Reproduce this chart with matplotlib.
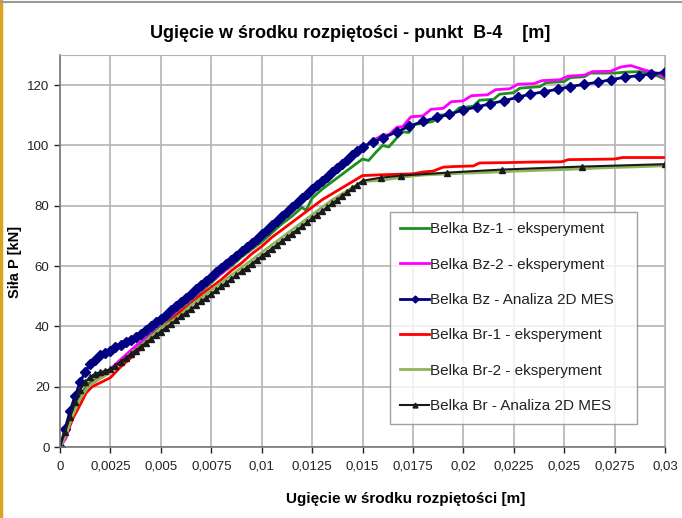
import matplotlib.pyplot as plt
from matplotlib.lines import Line2D
from matplotlib.ticker import FuncFormatter

plt.rcParams['font.family'] = ['Liberation Sans', 'DejaVu Sans']

# Belka Bz-1 - eksperyment
bz1_x = [0, 0.0003, 0.0006, 0.001, 0.0014, 0.0018, 0.0022, 0.0026, 0.003, 0.0035,
         0.004, 0.0045, 0.005, 0.0055, 0.006, 0.0065, 0.007, 0.0075, 0.008, 0.0085,
         0.009, 0.0095, 0.01, 0.0105, 0.011, 0.0115, 0.012, 0.0122, 0.0125, 0.013,
         0.0135, 0.014, 0.0145, 0.015, 0.0153, 0.0157, 0.016, 0.0163, 0.0167, 0.017,
         0.0173, 0.0176, 0.018, 0.0185, 0.0188, 0.0195, 0.0198, 0.0205, 0.0208, 0.0215,
         0.0218, 0.0225, 0.0228, 0.0238, 0.0241, 0.025, 0.0253, 0.026, 0.0263, 0.0275,
         0.028, 0.0288, 0.0293, 0.03]
bz1_y = [0, 5, 11, 17, 21, 22.5, 24, 26, 28.5, 31.5,
         34.5, 37.5, 40.5, 43, 46, 48.5, 51.5, 54.5, 57.5, 60,
         63, 65.5, 68, 71, 74, 76.5, 79.5, 78.5, 82.5, 85.5,
         88, 90.5, 93, 95.5, 95, 98, 100, 99.5, 102.5, 104.5,
         104.3, 107, 107.3, 108, 110, 110.5, 112.5, 113, 115, 115.3,
         117, 117.5, 119, 119.5, 120.8, 121.2, 122.5, 122.8, 124, 124,
         124.3, 124.5, 124, 122]

# Belka Bz-2 - eksperyment
bz2_x = [0, 0.0003, 0.0006, 0.001, 0.0014, 0.0018, 0.0022, 0.0026, 0.003, 0.0035,
         0.004, 0.0045, 0.005, 0.0055, 0.006, 0.0065, 0.007, 0.0075, 0.008, 0.0085,
         0.009, 0.0095, 0.01, 0.0105, 0.011, 0.0115, 0.012, 0.0125, 0.013, 0.0135,
         0.014, 0.0145, 0.015, 0.0155, 0.016, 0.0163, 0.0167, 0.017, 0.0174, 0.018,
         0.0184, 0.019, 0.0194, 0.02, 0.0204, 0.0212, 0.0216, 0.0223, 0.0227, 0.0235,
         0.0239, 0.0248, 0.0252, 0.026, 0.0264, 0.0273, 0.0278, 0.0283, 0.029, 0.0296,
         0.03]
bz2_y = [0, 3, 9, 16, 20, 22, 24, 26.5, 29, 32,
         35, 38, 41, 43.5, 46.5, 49, 52, 55, 57.5, 60.5,
         63.5, 66, 69.5, 72.5, 75.5, 78, 81, 84.5, 87.5, 90.5,
         93.5, 96.5, 99.5, 101.5, 103.5, 103.5, 106, 106.3, 109.5, 109.8,
         112, 112.3, 114.5, 114.8, 116.5, 116.8, 118.5, 118.8, 120.3, 120.5,
         121.5, 121.8, 123, 123.3, 124.5, 124.6, 126, 126.5, 125, 124,
         122.5]

# Belka Bz - Analiza 2D MES
bz_mes_x = [0, 0.00025, 0.0005, 0.00075, 0.001, 0.00125, 0.0015, 0.00175, 0.002, 0.00225,
            0.0025, 0.00275, 0.003, 0.00325, 0.0035, 0.00375, 0.004, 0.00425, 0.0045, 0.00475,
            0.005, 0.00525, 0.0055, 0.00575, 0.006, 0.00625, 0.0065, 0.00675, 0.007, 0.00725,
            0.0075, 0.00775, 0.008, 0.00825, 0.0085, 0.00875, 0.009, 0.00925, 0.0095, 0.00975,
            0.01, 0.01025, 0.0105, 0.01075, 0.011, 0.01125, 0.0115, 0.01175, 0.012, 0.01225,
            0.0125, 0.01275, 0.013, 0.01325, 0.0135, 0.01375, 0.014, 0.01425, 0.0145, 0.01475,
            0.015, 0.0155, 0.016, 0.0167, 0.0173, 0.018, 0.0187, 0.0193, 0.02, 0.0207,
            0.0213, 0.022, 0.0227, 0.0233, 0.024, 0.0247, 0.0253, 0.026, 0.0267, 0.0273,
            0.028, 0.0287, 0.0293, 0.03]
bz_mes_y = [0, 6, 12, 17, 21.5, 25, 27.5, 29, 30.5, 31.3,
            32, 33, 33.8, 34.8, 35.6, 36.5, 37.5, 38.7, 40, 41.3,
            42.5, 43.9, 45.3, 46.7, 48.1, 49.5, 50.9, 52.3, 53.7, 55.1,
            56.5, 57.9, 59.3, 60.7, 62.1, 63.5, 64.9, 66.3, 67.7, 69.1,
            70.5, 72, 73.5, 75, 76.5, 78, 79.5, 81, 82.5, 84,
            85.5, 86.9, 88.3, 89.7, 91.1, 92.5, 93.9, 95.3, 96.7, 98.1,
            99.5, 101, 102.5, 104.5, 106.3, 108, 109.3, 110.3, 111.8, 112.8,
            113.8, 114.8, 116, 117, 117.8, 118.7, 119.5, 120.3, 121, 121.8,
            122.6, 123.2, 123.7, 124.2]

# Belka Br-1 - eksperyment
br1_x = [0, 0.0003, 0.0006, 0.001, 0.0013, 0.0016, 0.0019, 0.0022, 0.0025, 0.003,
         0.0035, 0.004, 0.0045, 0.005, 0.0055, 0.006, 0.0065, 0.007, 0.0075, 0.008,
         0.0085, 0.009, 0.0095, 0.01, 0.0105, 0.011, 0.0115, 0.012, 0.0125, 0.013,
         0.0135, 0.014, 0.0145, 0.015, 0.016, 0.0175, 0.018, 0.0185, 0.019, 0.0195,
         0.0205, 0.0208, 0.022, 0.0235, 0.0249, 0.0252, 0.0265, 0.0275, 0.0279, 0.03]
br1_y = [0, 4, 9, 14, 18, 20, 21, 22, 23, 26.5,
         29.5, 32.5, 36, 39, 42, 45, 47.5, 50.5, 53, 55.5,
         58.5, 61, 64, 66.5, 69.5, 72, 74.5, 77, 79.5, 82,
         84, 86, 88, 90, 90.3, 90.6, 91.2, 91.5, 92.8, 93,
         93.2, 94.2, 94.3, 94.5, 94.6, 95.3, 95.4, 95.5, 96, 96]

# Belka Br-2 - eksperyment
br2_x = [0, 0.0003, 0.0006, 0.001, 0.0014, 0.0018, 0.0022, 0.0026, 0.003, 0.0035,
         0.004, 0.0045, 0.005, 0.0055, 0.006, 0.0065, 0.007, 0.0075, 0.008, 0.0085,
         0.009, 0.0095, 0.01, 0.0105, 0.011, 0.0115, 0.012, 0.0125, 0.013, 0.0135,
         0.014, 0.0145, 0.015, 0.016, 0.017, 0.018, 0.019, 0.02, 0.021, 0.022,
         0.023, 0.024, 0.025, 0.026, 0.027, 0.028, 0.029, 0.03]
br2_y = [0, 4, 10, 16, 20, 22, 23.5, 25.5, 28, 31,
         33.5, 36.5, 39, 41.5, 44, 47, 49.5, 52, 54.5, 57,
         59.5, 62, 64.5, 67, 69.5, 72, 74.5, 77, 79.5, 82,
         84, 86, 88, 88.5, 89.5, 90.2, 90.5, 90.8, 91, 91.3,
         91.6, 91.8, 92, 92.3, 92.6, 92.8, 93, 93.3]

# Belka Br - Analiza 2D MES
br_mes_x = [0, 0.00025, 0.0005, 0.00075, 0.001, 0.00125, 0.0015, 0.00175, 0.002, 0.00225,
            0.0025, 0.00275, 0.003, 0.00325, 0.0035, 0.00375, 0.004, 0.00425, 0.0045, 0.00475,
            0.005, 0.00525, 0.0055, 0.00575, 0.006, 0.00625, 0.0065, 0.00675, 0.007, 0.00725,
            0.0075, 0.00775, 0.008, 0.00825, 0.0085, 0.00875, 0.009, 0.00925, 0.0095, 0.00975,
            0.01, 0.01025, 0.0105, 0.01075, 0.011, 0.01125, 0.0115, 0.01175, 0.012, 0.01225,
            0.0125, 0.01275, 0.013, 0.01325, 0.0135, 0.01375, 0.014, 0.01425, 0.0145, 0.01475,
            0.015, 0.0159, 0.0169, 0.0192, 0.0219, 0.0259, 0.03]
br_mes_y = [0, 5, 10, 15, 19, 21.5, 23.3, 24.3, 24.8, 25.3,
            25.8, 27, 28.3, 29.5, 30.8, 32, 33.3, 34.5, 35.8, 37,
            38.3, 39.5, 40.8, 42, 43.3, 44.5, 45.8, 47, 48.3, 49.5,
            50.8, 52, 53.3, 54.5, 55.8, 57, 58.3, 59.5, 60.8, 62,
            63.3, 64.5, 65.8, 67, 68.3, 69.5, 70.8, 72, 73.3, 74.5,
            75.8, 77, 78.3, 79.5, 80.8, 82, 83.3, 84.5, 85.8, 87,
            88.3, 89.3, 90, 91, 92, 93, 93.8]

x_ticks = [0, 0.0025, 0.005, 0.0075, 0.01, 0.0125, 0.015, 0.0175, 0.02, 0.0225, 0.025, 0.0275, 0.03]
y_ticks = [0, 20, 40, 60, 80, 100, 120]

fig = plt.figure(figsize=(6.82, 5.18), dpi=100)
ax = fig.add_axes([60 / 682, 1 - 447 / 518, 605 / 682, 392 / 518])

ax.plot(bz1_x, bz1_y, color='#1f8f1f', lw=2, label='Belka Bz-1 - eksperyment')
ax.plot(bz2_x, bz2_y, color='#ff00ff', lw=2, label='Belka Bz-2 - eksperyment')
ax.plot(bz_mes_x, bz_mes_y, color='#000080', lw=2, marker='D', ms=5,
        label='Belka Bz - Analiza 2D MES')
ax.plot(br1_x, br1_y, color='#ff0000', lw=2, label='Belka Br-1 - eksperyment')
ax.plot(br2_x, br2_y, color='#8fb55a', lw=2, label='Belka Br-2 - eksperyment')
ax.plot(br_mes_x, br_mes_y, color='#1a1a1a', lw=1.5, marker='^', ms=4.5,
        label='Belka Br - Analiza 2D MES')

ax.set_xlim(0, 0.03)
ax.set_ylim(0, 130)
ax.set_xticks(x_ticks)
ax.set_yticks(y_ticks)
ax.xaxis.set_major_formatter(FuncFormatter(lambda v, p: ('%g' % round(v, 5)).replace('.', ',')))
ax.tick_params(labelsize=9.5, colors='#222222', length=4, width=1, direction='out')
ax.tick_params(axis='x', pad=6)
ax.grid(True, color='#b4b4b4', lw=1.2)
ax.set_axisbelow(True)
for s in ['top', 'right']:
    ax.spines[s].set_color('#b4b4b4')
for s in ['left', 'bottom']:
    ax.spines[s].set_color('#777777')
    ax.spines[s].set_linewidth(1.2)

ax.set_xlabel('Ugięcie w środku rozpiętości [m]', fontsize=11, fontweight='bold')
ax.xaxis.set_label_coords((406 - 60) / 605, -(492 - 447) / 392)
ax.set_ylabel('Siła P [kN]', fontsize=10.5, fontweight='bold')
ax.yaxis.set_label_coords(-(60 - 22) / 605, (447 - 262) / 392)
fig.text(350 / 682, 1 - 33 / 518, 'Ugięcie w środku rozpiętości - punkt  B-4    [m]',
         ha='center', va='center', fontsize=13, fontweight='bold')

leg = ax.legend(loc='lower left', bbox_to_anchor=(0.545, 0.059, 0.409, 0.5), mode='expand',
                fontsize=11, labelspacing=1.4, handlelength=1.9, handletextpad=0.05,
                borderpad=0.7, frameon=True, fancybox=False, borderaxespad=0)
leg.get_frame().set_edgecolor('#888888')
leg.get_frame().set_linewidth(1.0)
for t in leg.get_texts():
    t.set_color('#222222')
for h in leg.findobj(Line2D):
    if h.get_marker() not in ('None', None, ''):
        h.set_markersize(3.5)

# slide frame edges
fig.add_artist(Line2D([0.002, 0.002], [0, 1], color='#d9a520', lw=2.5, transform=fig.transFigure))
fig.add_artist(Line2D([0, 1], [0.997, 0.997], color='#999999', lw=1.5, transform=fig.transFigure))

fig.savefig('out.png', dpi=100)
